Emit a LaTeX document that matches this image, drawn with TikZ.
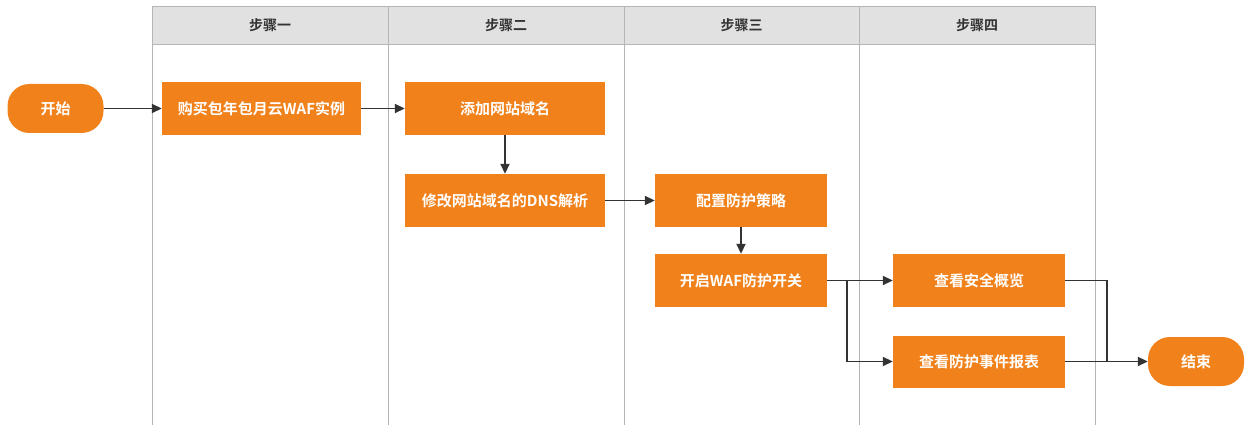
\documentclass[tikz,border=0pt]{standalone}
\usepackage{fontspec}
\setmainfont{Noto Sans CJK SC}[BoldFont={* Bold}]
\usetikzlibrary{arrows.meta}
\definecolor{org}{HTML}{F1811B}
\definecolor{hdr}{HTML}{E1E1E1}
\definecolor{lanel}{HTML}{B5B5B5}
\definecolor{arr}{HTML}{333333}
\tikzset{
  box/.style={fill=org, draw=none, text=white, font=\fontsize{15}{17}\selectfont\bfseries, inner sep=0pt},
  term/.style={box, rounded corners=22pt},
  conn/.style={draw=arr, line width=1.8pt, -{Triangle[length=10pt,width=9pt]}},
  line/.style={draw=arr, line width=1.8pt},
  lane/.style={draw=lanel, line width=0.9pt},
  hdrtext/.style={text=arr, font=\fontsize{14}{16}\selectfont\bfseries}
}
\begin{document}
\begin{tikzpicture}[x=1pt,y=-1pt]
\useasboundingbox (0,0) rectangle (1245,425);
% header
\fill[hdr] (152,6) rectangle (1095,44);
\foreach \x in {152,388,624,859,1095} \draw[lane] (\x,6) -- (\x,425);
\draw[lane] (152,6) -- (1095,6);
\draw[lane] (152,44) -- (1095,44);
\node[hdrtext] (h1) at (270,25) {步骤一};
\node[hdrtext] (h2) at (506,25) {步骤二};
\node[hdrtext] (h3) at (741.5,25) {步骤三};
\node[hdrtext] (h4) at (977,25) {步骤四};
% nodes
\node[term, minimum width=96pt, minimum height=49pt] (start) at (55.5,108.5) {开始};
\node[box, minimum width=199pt, minimum height=53pt] (b1) at (261.5,108.5) {购买包年包月云WAF实例};
\node[box, minimum width=200pt, minimum height=53pt] (b2) at (505,108.5) {添加网站域名};
\node[box, minimum width=200pt, minimum height=53pt] (b3) at (505,200.5) {修改网站域名的DNS解析};
\node[box, minimum width=172pt, minimum height=53pt] (b4) at (741,200.5) {配置防护策略};
\node[box, minimum width=172pt, minimum height=53pt] (b5) at (741,280.5) {开启WAF防护开关};
\node[box, minimum width=172pt, minimum height=53pt] (b6) at (979,280.5) {查看安全概览};
\node[box, minimum width=172pt, minimum height=52pt] (b7) at (979,361.5) {查看防护事件报表};
\node[term, minimum width=96pt, minimum height=49pt] (end) at (1196,361.5) {结束};
\coordinate (split) at (847,280.5);
\coordinate (merge) at (1107,361.5);
% connectors
\draw[conn] (start) -- (b1);
\draw[conn] (b1) -- (b2);
\draw[conn] (b2) -- (b3);
\draw[conn] (b3) -- (b4);
\draw[conn] (b4) -- (b5);
\draw[conn] (b5.east) -- (b6.west);
\draw[conn] (split) |- (b7.west);
\draw[line] (b6.east) -| (merge);
\draw[conn] (b7.east) -- (end.west);
\end{tikzpicture}
\end{document}
